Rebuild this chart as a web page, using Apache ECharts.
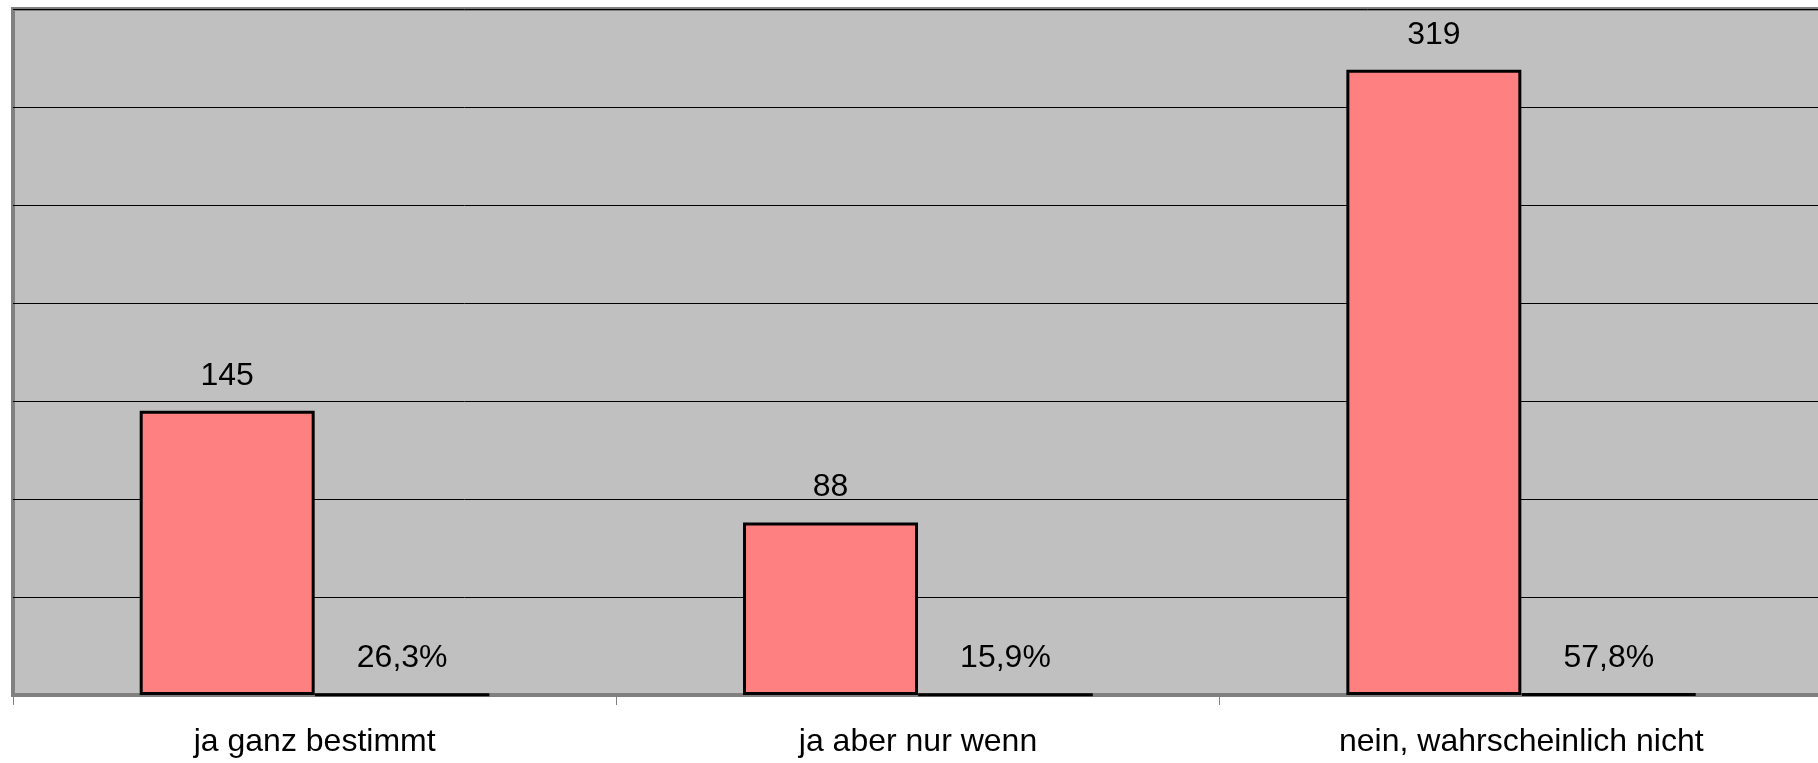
<!DOCTYPE html>
<html>
<head>
<meta charset="utf-8">
<script src="https://cdn.jsdelivr.net/npm/echarts@6/dist/echarts.min.js"></script>
<style>
    html, body { margin: 0; padding: 0; background: #fff; }
    #chart { width: 1818px; height: 763px; }
</style>
</head>
<body>
<div id="chart"></div>
<script>
// categories and values
var categories = ['ja ganz bestimmt', 'ja aber nur wenn', 'nein, wahrscheinlich nicht'];
var counts = [145, 88, 319];
var shares = [0.263, 0.159, 0.578];   // second series, drawn on same axis (almost flat)

var yTicks = { min: 0, max: 350, interval: 50 };

var chart = echarts.init(document.getElementById('chart'));

var labelFont = {
    fontFamily: 'Liberation Sans, Arial, sans-serif',
    fontSize: 32,
    color: '#000'
};

var option = {
    animation: false,
    grid: {
        left: 13,
        width: 1810,   // plot runs past the right edge of the picture
        top: 9,
        bottom: 68,
        outerBoundsMode: 'none',
        containLabel: false,
        show: true,
        backgroundColor: '#c0c0c0',
        borderColor: '#808080',
        borderWidth: 4
    },
    xAxis: {
        type: 'category',
        data: categories,
        axisLine: { show: true, lineStyle: { color: '#808080', width: 2 } },
        axisTick: { show: true, length: 10, lineStyle: { color: '#808080', width: 1 } },
        axisLabel: {
            margin: 31,
            fontFamily: labelFont.fontFamily,
            fontSize: labelFont.fontSize,
            color: '#000'
        }
    },
    yAxis: {
        type: 'value',
        min: yTicks.min,
        max: yTicks.max,
        interval: yTicks.interval,
        axisLine: { show: false },
        axisTick: { show: false },
        axisLabel: { show: false },
        splitLine: { show: true, lineStyle: { color: '#000', width: 1 } }
    },
    series: [
        {
            name: 'Anzahl',
            type: 'bar',
            data: counts,
            barGap: '0%',
            barCategoryGap: '42%',
            itemStyle: { color: '#ff8080', borderColor: '#000', borderWidth: 3 },
            label: {
                show: true,
                position: 'top',
                distance: 19,
                fontFamily: labelFont.fontFamily,
                fontSize: labelFont.fontSize,
                color: '#000'
            }
        },
        {
            name: 'Anteil',
            type: 'bar',
            data: shares,
            itemStyle: { color: '#000', borderColor: '#000', borderWidth: 3 },
            label: {
                show: true,
                position: 'top',
                distance: 19,
                fontFamily: labelFont.fontFamily,
                fontSize: labelFont.fontSize,
                color: '#000',
                formatter: function (p) {
                    return (p.value * 100).toFixed(1).replace('.', ',') + '%';
                }
            }
        }
    ]
};

chart.setOption(option);
</script>
</body>
</html>
